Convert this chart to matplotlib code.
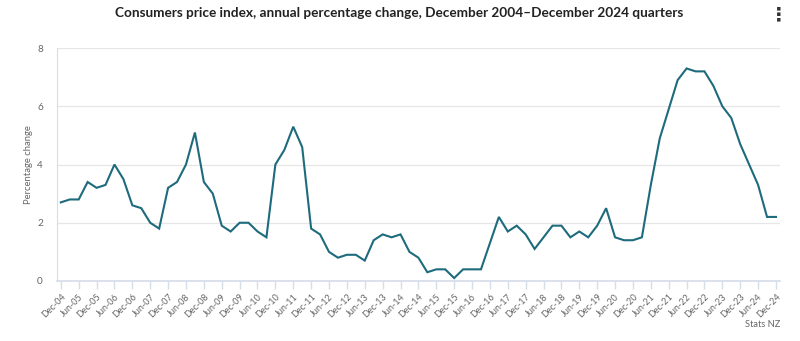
import matplotlib
matplotlib.use("Agg")
import matplotlib.pyplot as plt
import numpy as np

plt.rcParams['font.family'] = ['Lato', 'DejaVu Sans']

# annual % change in CPI, quarterly, Dec 2004 .. Dec 2024
cpi = [2.7, 2.8, 2.8, 3.4, 3.2, 3.3, 4.0, 3.5, 2.6, 2.5, 2.0, 1.8,
       3.2, 3.4, 4.0, 5.1, 3.4, 3.0, 1.9, 1.7, 2.0, 2.0, 1.7, 1.5,
       4.0, 4.5, 5.3, 4.6, 1.8, 1.6, 1.0, 0.8, 0.9, 0.9, 0.7, 1.4,
       1.6, 1.5, 1.6, 1.0, 0.8, 0.3, 0.4, 0.4, 0.1, 0.4, 0.4, 0.4,
       1.3, 2.2, 1.7, 1.9, 1.6, 1.1, 1.5, 1.9, 1.9, 1.5, 1.7, 1.5,
       1.9, 2.5, 1.5, 1.4, 1.4, 1.5, 3.3, 4.9, 5.9, 6.9, 7.3, 7.2,
       7.2, 6.7, 6.0, 5.6, 4.7, 4.0, 3.3, 2.2, 2.2]
months = ['Mar', 'Jun', 'Sep', 'Dec']
quarters = ['Dec-04'] + ['%s-%02d' % (m, y) for y in range(5, 25) for m in months]
yticks = [0, 2, 4, 6, 8]

axis_col = '#d5dcea'
text_col = '#666666'

fig = plt.figure(figsize=(8, 3.41), dpi=100)
ax = fig.add_axes([0.071, 0.176, 0.904, 0.683])

x = np.arange(len(cpi))
ax.plot(x, cpi, color='#1d6b7c', linewidth=1.5, solid_joinstyle='miter')

ax.set_xlim(-0.45, len(cpi) - 0.55)
ax.set_ylim(0, 8)
ax.set_yticks(yticks)
ax.set_xticks(x[::2])
ax.set_xticklabels(quarters[::2], rotation=45, ha='right', rotation_mode='anchor',
                   fontsize=6.5, color=text_col)
ax.tick_params(axis='x', length=6, color=axis_col, width=1, pad=2)
ax.tick_params(axis='y', length=0, labelsize=7.2, labelcolor=text_col, pad=10)
ax.grid(axis='y', color='#e6e6e6', linewidth=0.9)
ax.set_axisbelow(True)

for s in ['top', 'right']:
    ax.spines[s].set_visible(False)
ax.spines['left'].set_color(axis_col)
ax.spines['bottom'].set_color(axis_col)
ax.spines['bottom'].set_linewidth(1.2)

ax.set_ylabel('Percentage change', fontsize=6.8, color=text_col, labelpad=3)

fig.text(0.4995, 0.962, 'Consumers price index, annual percentage change, December 2004\u2013December 2024 quarters',
         ha='center', va='center', fontsize=9.8, fontweight='bold', color='#222222')
fig.text(0.975, 0.048, 'Stats NZ', ha='right', va='center', fontsize=6.7, color=text_col)
fig.text(0.973, 0.955, '\u22ee', ha='center', va='center', fontsize=14, fontweight='bold',
         color='#333333', family='DejaVu Sans')

fig.savefig('out.png', dpi=100)
